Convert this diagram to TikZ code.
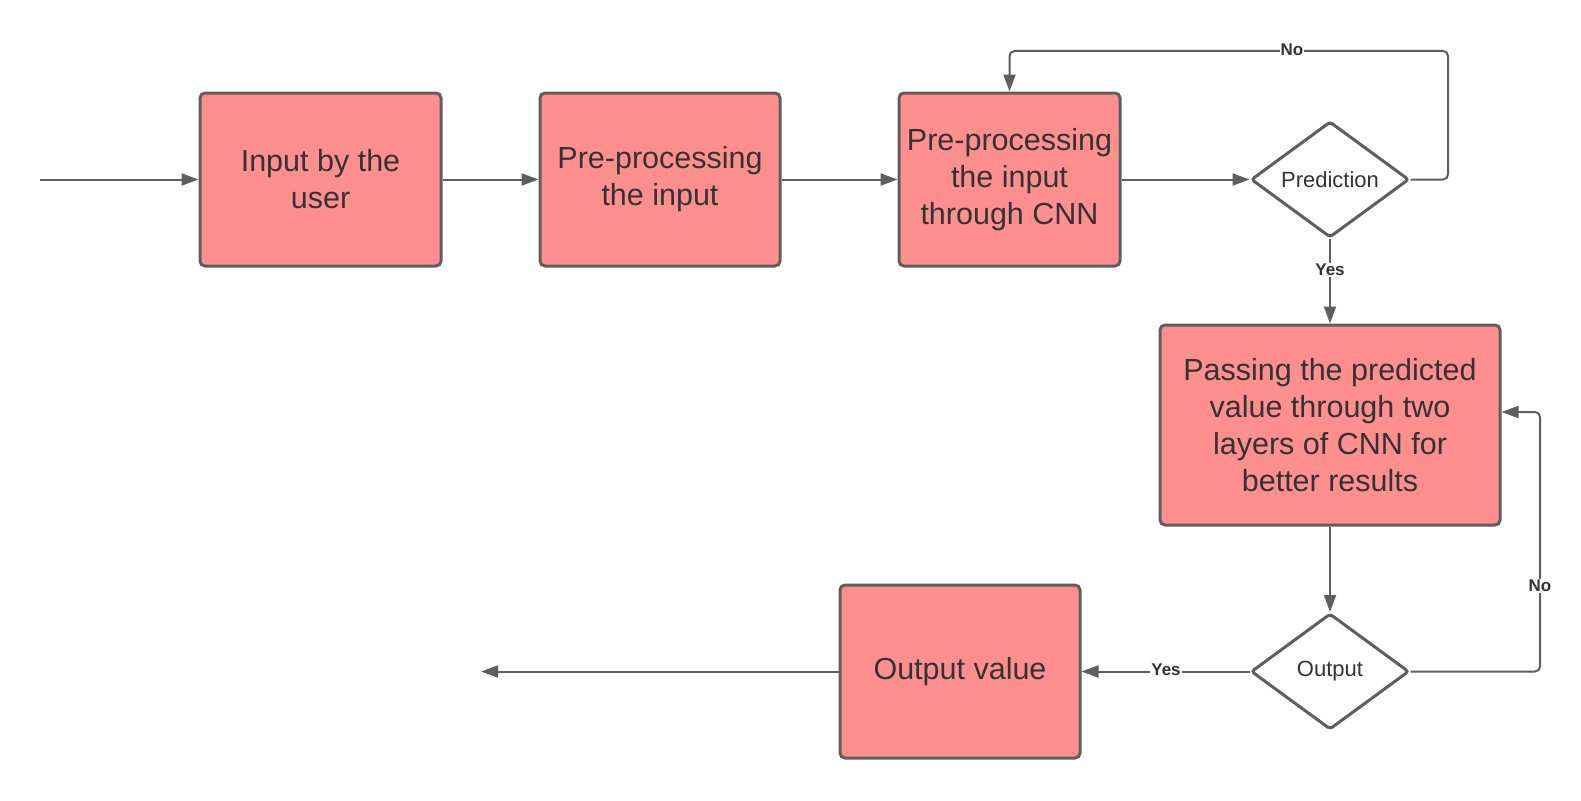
\documentclass[tikz,border=0pt]{standalone}
\usepackage{fontspec}
\setmainfont{Liberation Sans}
\usepackage{tikz}
\usetikzlibrary{arrows.meta, positioning, calc, shapes.geometric}
\usepackage{xcolor}
\definecolor{boxfill}{RGB}{255,143,143}
\definecolor{linegray}{RGB}{94,94,94}
\definecolor{textgray}{RGB}{51,51,51}

\begin{document}
\begin{tikzpicture}[x=1pt, y=-1pt,
  stepbox/.style={draw=linegray, line width=3pt, fill=boxfill, rounded corners=5pt,
    minimum height=173pt, align=center, text=textgray, inner sep=0pt,
    font=\fontsize{30.5}{37}\selectfont},
  decision/.style={diamond, draw=linegray, line width=3pt, fill=white, rounded corners=3pt,
    minimum width=158pt, minimum height=116pt, aspect=1.36, inner sep=0pt,
    text=textgray, font=\fontsize{22}{26}\selectfont},
  flow/.style={draw=linegray, line width=2pt, -{Triangle[length=17pt,width=12pt]}},
  link/.style={draw=linegray, line width=2pt, rounded corners=5pt},
  tag/.style={fill=white, inner sep=1pt, text=textgray, font=\fontsize{17}{20}\selectfont\bfseries}]
  \useasboundingbox (0,0) rectangle (1581,800);
  % Top row
  \node[stepbox, minimum width=241pt] (user) at (320.5,179.5) {Input by the\\user};
  \node[stepbox, minimum width=240pt] (prep) at (660,179.5) {Pre-processing\\the input};
  \node[stepbox, minimum width=221pt] (cnn) at (1009.5,179.5) {Pre-processing\\the input\\through CNN};
  \node[decision] (pred) at (1330,179.5) {Prediction};
  % Right column and bottom row
  \node[stepbox, minimum width=340pt, minimum height=200pt] (layers) at (1330,425)
    {Passing the predicted\\value through two\\layers of CNN for\\better results};
  \node[decision] (outd) at (1330,671.5) {Output};
  \node[stepbox, minimum width=240pt] (value) at (960,671.5) {Output value};
  % Free ends
  \coordinate (start) at (40,179.5);
  \coordinate (finish) at (481,671.5);
  \coordinate (loopa) at (1448,51);
  \coordinate (loopb) at (1540,412);
  % Arrows
  \draw[flow] (start) -- (user);
  \draw[flow] (user) -- (prep);
  \draw[flow] (prep) -- (cnn);
  \draw[flow] (cnn) -- (pred);
  \draw[link, flow] (pred.east) -| (loopa) -| (cnn.north);
  \node[tag] at (1292,50) {No};
  \draw[flow] (pred.south) -- (layers.north);
  \node[tag] at (1330,270) {Yes};
  \draw[flow] (layers.south) -- (outd.north);
  \draw[link, flow] (outd.east) -| (loopb) -- (layers.east |- loopb);
  \node[tag] at (1540,586) {No};
  \draw[flow] (outd.west) -- (value.east);
  \node[tag] at (1166,670) {Yes};
  \draw[flow] (value.west) -- (finish);
\end{tikzpicture}
\end{document}
